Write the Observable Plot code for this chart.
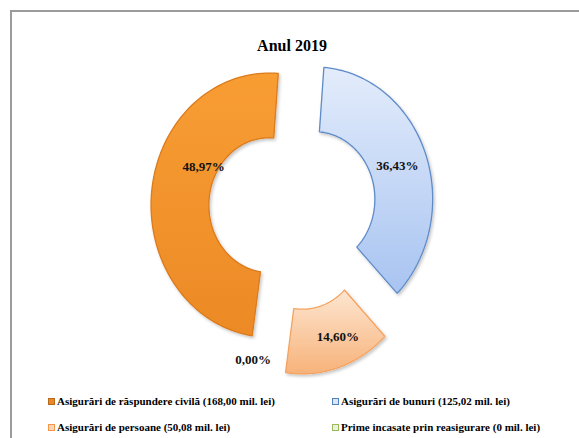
<!DOCTYPE html>
<html><head><meta charset="utf-8">
<script src="https://cdn.jsdelivr.net/npm/d3@7"></script>
<script src="https://cdn.jsdelivr.net/npm/@observablehq/plot@0.6"></script>
<style>
body{margin:0;background:#fff;font-family:"Liberation Serif","Times New Roman",serif;color:#000;}
#page{position:relative;width:579px;height:438px;overflow:hidden;}
#frame{position:absolute;left:10px;top:10px;width:620px;height:480px;border-top:2px solid #9b9b9b;border-left:2px solid #9b9b9b;}
#title{position:absolute;top:37px;left:0;width:584px;text-align:center;font-weight:bold;font-size:16px;font-family:"Liberation Serif",serif;}
#chart{position:absolute;left:0;top:60px;}
.leg{position:absolute;font-weight:bold;font-size:11px;font-family:"Liberation Serif",serif;white-space:nowrap;display:flex;align-items:center;line-height:12px;}
.sw{display:inline-block;width:5px;height:5px;margin-right:2px;border:1px solid;}
</style></head><body>
<div id="page"><div id="frame"></div><div id="title"></div><div id="chart"></div><div id="legend"></div></div>
<script>
// ---- data ----
const title = "Anul 2019";
const categories = ["Asigurări de răspundere civilă", "Asigurări de bunuri", "Asigurări de persoane", "Prime incasate prin reasigurare"];
const amounts = [168.00, 125.02, 50.08, 0];
const amountLabels = ["168,00", "125,02", "50,08", "0"];
const percentLabels = ["48,97%", "36,43%", "14,60%", "0,00%"];

// ---- styling / layout config ----
const fills = ["url(#gOrange)", "url(#gBlue)", "url(#gPeach)", "url(#gGreen)"];
const strokes = ["#dc7a1c", "#5e8bc9", "#f5a25e", "#9bbb59"];
const swatchFill = ["#e8882a", "#dce6f8", "#fcd5b4", "#ebf1de"];
const swatchStroke = ["#b86a1a", "#4f81bd", "#f79646", "#9bbb59"];
const startDeg = 188.2;
const innerRatio = 0.51;
const explode = [0.2, 0.2, 0.27, 0.2];
const labelRadius = [0.624, 0.746, 0.783, 1.0];
const labelTurnDeg = [21, 0, -4.6, 9.6];

const W = 579, H = 315, cxPx = 292, cyPx = 147.5, pxX = 118, pxY = 132;

document.getElementById("title").textContent = title;

const pie = d3.pie().sort(null).value(d => d)
  .startAngle(startDeg * Math.PI / 180).endAngle((startDeg + 360) * Math.PI / 180);
const arcs = pie(amounts);

const polys = [];
const labels = [];
arcs.forEach((a, i) => {
  const mid = (a.startAngle + a.endAngle) / 2;
  const ox = explode[i] * Math.sin(mid), oy = explode[i] * Math.cos(mid);
  const la = mid + labelTurnDeg[i] * Math.PI / 180;
  labels.push({x: ox + labelRadius[i] * Math.sin(la), y: oy + labelRadius[i] * Math.cos(la), text: percentLabels[i]});
  if (a.endAngle - a.startAngle <= 0) return;
  const n = 90, pts = [];
  for (let k = 0; k <= n; k++) {
    const t = a.startAngle + (a.endAngle - a.startAngle) * k / n;
    pts.push({x: ox + Math.sin(t), y: oy + Math.cos(t)});
  }
  for (let k = n; k >= 0; k--) {
    const t = a.startAngle + (a.endAngle - a.startAngle) * k / n;
    pts.push({x: ox + innerRatio * Math.sin(t), y: oy + innerRatio * Math.cos(t)});
  }
  pts.push(pts[0]);
  polys.push({i, pts});
});

const defs = () => {
  const g = d3.create("svg:defs");
  const mk = (id, c0, c1) => {
    const lg = g.append("linearGradient").attr("id", id).attr("x1", 0).attr("y1", 0).attr("x2", 0).attr("y2", 1);
    lg.append("stop").attr("offset", "0%").attr("stop-color", c0);
    lg.append("stop").attr("offset", "100%").attr("stop-color", c1);
  };
  mk("gOrange", "#f89d33", "#ec8a26");
  mk("gBlue", "#e3ecfb", "#a8c4f1");
  mk("gPeach", "#fde6d1", "#f7b27a");
  mk("gGreen", "#ebf1de", "#c3d69b");
  const f = g.append("filter").attr("id", "shadow").attr("x", "-10%").attr("y", "-10%").attr("width", "130%").attr("height", "130%");
  f.append("feDropShadow").attr("dx", 1.5).attr("dy", 2).attr("stdDeviation", 1.5).attr("flood-color", "#000").attr("flood-opacity", 0.22);
  return g.node();
};

const chart = Plot.plot({
  width: W, height: H,
  margin: 0,
  x: {domain: [-cxPx / pxX, (W - cxPx) / pxX], axis: null},
  y: {domain: [-(H - cyPx) / pxY, cyPx / pxY], axis: null},
  style: {background: "transparent", overflow: "visible", fontFamily: "Liberation Serif"},
  marks: [
    defs,
    ...polys.map(p => Plot.line(p.pts, {x: "x", y: "y", fill: fills[p.i], stroke: strokes[p.i], strokeWidth: 1.3, curve: "linear", strokeLinejoin: "miter"})),
    Plot.text(labels, {x: "x", y: "y", text: "text", fontSize: 13, fontWeight: "bold", fontFamily: "Liberation Serif", fill: "#111"})
  ]
});
chart.querySelectorAll('g[aria-label="line"]').forEach(g => g.setAttribute("filter", "url(#shadow)"));
document.getElementById("chart").appendChild(chart);

const legendPos = [[48, 395], [332, 395], [48, 421], [332, 421]];
const leg = document.getElementById("legend");
categories.forEach((c, i) => {
  const d = document.createElement("div");
  d.className = "leg";
  d.style.left = legendPos[i][0] + "px";
  d.style.top = legendPos[i][1] + "px";
  const s = document.createElement("span");
  s.className = "sw";
  s.style.background = swatchFill[i];
  s.style.borderColor = swatchStroke[i];
  d.appendChild(s);
  d.appendChild(document.createTextNode(`${c} (${amountLabels[i]} mil. lei)`));
  leg.appendChild(d);
});
</script>
</body></html>
